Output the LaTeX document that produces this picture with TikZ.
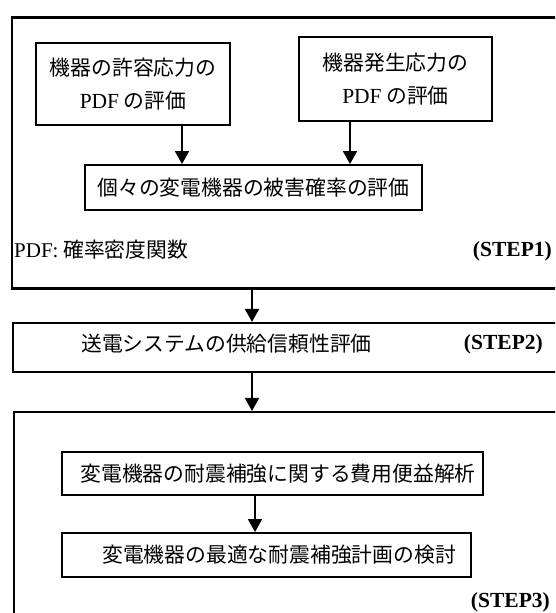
\documentclass[tikz,border=0pt]{standalone}
\usepackage{fontspec}
\setmainfont{Liberation Serif}
\newfontfamily\cjk{Noto Sans CJK JP}
\usetikzlibrary{arrows.meta}
\begin{document}
\begin{tikzpicture}[x=1pt,y=-1pt,
  box/.style={draw, line width=1.9pt, inner sep=0pt, align=center,
    font=\cjk\fontsize{20.8}{33}\selectfont},
  outer/.style={draw, line width=2.1pt, inner sep=0pt},
  lab/.style={inner sep=1pt, font=\cjk\fontsize{20.8}{24}\selectfont},
  steplab/.style={inner sep=1pt, font=\rmfamily\bfseries\fontsize{21.5}{24}\selectfont},
  arr/.style={-{Triangle[width=14pt,length=13pt]}, line width=1.8pt}]
\useasboundingbox (0,0) rectangle (555,613);
\clip (0,0) rectangle (555,613);
% STEP1
\node[outer, minimum width=555, minimum height=271] (s1) at (289.5,153) {};
\node[box, minimum width=194, minimum height=82] (a) at (133,84)
  {機器の許容応力の\\{\rmfamily\fontsize{21.5}{33}\selectfont PDF} の評価};
\node[box, minimum width=193, minimum height=84] (b) at (395.5,79)
  {機器発生応力の\\{\rmfamily\fontsize{21.5}{33}\selectfont PDF} の評価};
\node[box, minimum width=337, minimum height=45] (c) at (253.5,187.5)
  {個々の変電機器の被害確率の評価};
\coordinate (xa) at (182,0);
\coordinate (xb) at (350,0);
\draw[arr] (a.south -| xa) -- (c.north -| xa);
\draw[arr] (b.south -| xb) -- (c.north -| xb);
\node[lab, anchor=west] (pdf) at (13,250) {{\rmfamily\fontsize{21}{24}\selectfont PDF:} 確率密度関数};
\node[steplab, anchor=east] (st1) at (553,251) {(STEP1)};
% STEP2
\node[outer, minimum width=554, minimum height=49] (s2) at (290,347.5) {};
\node[lab, anchor=west] (t2) at (80,344) {送電システムの供給信頼性評価};
\node[steplab, anchor=east] (st2) at (544,344) {(STEP2)};
\coordinate (x1) at (252,0);
\draw[arr] (s1.south -| x1) -- (s2.north -| x1);
% STEP3
\node[outer, minimum width=553, minimum height=228] (s3) at (290.5,526) {};
\coordinate (x2) at (252,0);
\draw[arr] (s2.south -| x2) -- (s3.north -| x2);
\node[box, minimum width=421, minimum height=43] (d) at (272.5,473.5)
  {\hspace*{11pt}変電機器の耐震補強に関する費用便益解析};
\node[box, minimum width=409, minimum height=44] (e) at (266.5,555)
  {\hspace*{25pt}変電機器の最適な耐震補強計画の検討};
\coordinate (x3) at (255,0);
\draw[arr] (d.south -| x3) -- (e.north -| x3);
\node[steplab, anchor=east] (st3) at (551,602) {(STEP3)};
\end{tikzpicture}
\end{document}
